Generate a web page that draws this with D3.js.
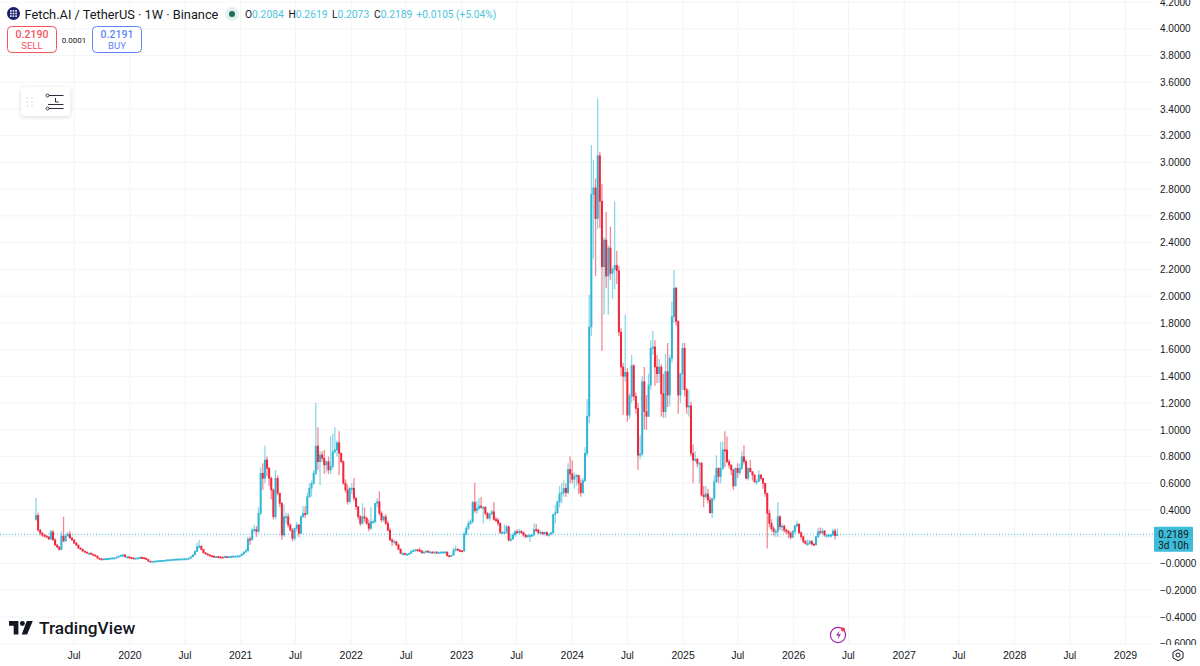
<!DOCTYPE html>
<html>
<head>
<meta charset="utf-8">
<script src="https://cdn.jsdelivr.net/npm/d3@7"></script>
<style>
  html, body { margin: 0; background: #fff; overflow: hidden; }
  svg { display: block; font-family: Roboto, sans-serif; }
  .axis text { fill: #131722; }
</style>
</head>
<body>
<svg id="chart" width="1200" height="666"></svg>
<script>
// weekly bars from the listing week, one value per week. open = previous close
const firstWeek = '2019-02-25'
const firstOpen = 0.33

const closes = [
  .36,.25,.228,.213,.206,.198,.183,.236,.176,.138,
  .123,.105,.206,.168,.206,.22,.19,.176,.153,.138,
  .116,.108,.093,.086,.078,.078,.07,.064,.056,.04,
  .035,.034,.036,.037,.038,.04,.042,.042,.048,.056,
  .062,.065,.05,.05,.045,.042,.04,.04,.042,.046,
  .044,.04,.03,.018,.017,.017,.018,.02,.022,.023,
  .024,.025,.028,.028,.03,.032,.033,.034,.034,.035,
  .036,.036,.04,.05,.065,.09,.126,.13,.105,.08,
  .072,.065,.058,.055,.052,.052,.05,.048,.044,.052,
  .05,.052,.054,.055,.056,.056,.058,.07,.085,.095,
  .183,.18,.25,.255,.24,.375,.675,.637,.775,.712,
  .637,.55,.35,.637,.525,.45,.213,.35,.35,.288,
  .25,.188,.263,.288,.226,.35,.375,.37,.5,.563,
  .6,.675,.879,.762,.812,.787,.737,.762,.7,.725,
  .837,.849,.904,.824,.762,.6,.55,.463,.563,.563,
  .488,.425,.35,.3,.35,.338,.3,.263,.313,.313,
  .45,.463,.376,.326,.35,.3,.25,.176,.164,.164,
  .139,.106,.076,.076,.07,.07,.076,.09,.098,.103,
  .1,.096,.08,.086,.093,.086,.086,.084,.086,.083,
  .083,.086,.086,.086,.058,.056,.063,.1,.108,.1,
  .096,.093,.22,.263,.3,.313,.457,.395,.412,.43,
  .42,.42,.375,.338,.37,.387,.33,.325,.3,.233,
  .233,.233,.275,.175,.183,.213,.238,.235,.24,.23,
  .213,.2,.21,.21,.213,.255,.25,.23,.233,.223,
  .233,.213,.22,.23,.368,.38,.462,.52,.53,.562,
  .53,.704,.67,.63,.65,.66,.6,.53,.62,.824,
  1.103,1.77,2.76,2.81,2.58,3.05,2.71,2.22,2.42,2.15,
  2.36,2.17,2.2,2.23,2.19,1.73,1.47,1.4,1.43,1.11,
  1.25,1.48,1.25,1.16,.81,.82,1.36,1.136,1.1,1.335,
  1.61,1.62,1.47,1.42,1.47,1.27,1.136,1.435,1.26,1.535,
  1.846,2.06,1.81,1.26,1.42,1.61,1.3,1.17,1.18,.824,
  .774,.78,.75,.75,.512,.5,.52,.475,.38,.488,
  .612,.712,.65,.712,.85,.849,.762,.737,.7,.58,
  .712,.68,.712,.799,.762,.637,.712,.687,.662,.612,
  .615,.662,.637,.6,.525,.375,.3,.26,.24,.24,
  .35,.276,.28,.25,.24,.226,.196,.24,.28,.295,
  .23,.2,.165,.15,.15,.165,.145,.14,.2,.238,
  .23,.243,.213,.213,.213,.213,.243,.2084,.2189
]

const highs = [
  .49,.38,.26,.235,.22,.212,.205,.25,.25,.19,
  .145,.13,.24,.35,.225,.235,.245,.2,.18,.16,
  .14,.12,.11,.095,.088,.082,.08,.072,.066,.058,
  .042,.038,.04,.04,.042,.044,.048,.046,.052,.06,
  .068,.072,.066,.054,.052,.048,.044,.044,.046,.052,
  .052,.046,.042,.032,.02,.02,.021,.023,.025,.026,
  .027,.028,.031,.032,.033,.035,.036,.037,.038,.038,
  .04,.04,.043,.054,.07,.1,.155,.175,.135,.108,
  .085,.076,.068,.06,.058,.056,.056,.053,.05,.06,
  .056,.056,.058,.06,.06,.06,.063,.075,.09,.115,
  .2,.2,.27,.29,.28,.42,.72,.75,.88,.8,
  .72,.65,.56,.7,.66,.53,.46,.44,.38,.375,
  .3,.265,.27,.31,.295,.36,.43,.43,.53,.6,
  .62,.7,1.2,1.02,.84,.84,.85,.77,.8,.95,
  .97,1.02,.92,.99,.83,.77,.63,.59,.57,.6,
  .64,.5,.43,.36,.45,.42,.35,.33,.42,.33,
  .455,.49,.54,.39,.36,.37,.32,.27,.19,.18,
  .17,.15,.115,.085,.08,.078,.082,.1,.105,.11,
  .11,.118,.1,.09,.098,.098,.094,.092,.09,.092,
  .09,.09,.092,.092,.09,.064,.066,.12,.135,.112,
  .108,.1,.24,.28,.32,.33,.47,.604,.47,.49,
  .5,.43,.43,.385,.38,.4,.46,.35,.34,.31,
  .245,.29,.29,.285,.22,.23,.25,.255,.26,.25,
  .24,.22,.215,.22,.22,.3,.295,.26,.25,.24,
  .24,.24,.225,.24,.37,.44,.47,.58,.6,.62,
  .6,.75,.8,.77,.68,.67,.66,.63,.64,.87,
  1.23,2.01,3.13,3.02,2.88,3.48,3.08,2.84,2.44,2.63,
  2.38,2.52,2.22,2.71,2.34,2.225,1.76,1.5,1.86,1.46,
  1.27,1.56,1.49,1.28,1.2,.96,1.4,1.47,1.26,1.42,
  1.67,1.74,1.67,1.56,1.53,1.49,1.42,1.57,1.65,1.56,
  1.96,2.195,2.07,1.82,1.42,1.65,1.65,1.31,1.3,1.21,
  .89,.84,.79,.76,.76,.58,.58,.56,.5,.49,
  .66,.81,.72,.91,.91,.99,.95,.78,.74,.71,
  .72,.75,.75,.84,.885,.78,.72,.775,.69,.67,
  .63,.7,.67,.64,.6,.53,.4,.33,.28,.26,
  .46,.36,.3,.29,.26,.25,.24,.25,.29,.32,
  .3,.24,.21,.175,.18,.175,.175,.155,.21,.265,
  .27,.265,.25,.22,.225,.22,.26,.26,.2619
]

const lows = [
  .32,.24,.21,.2,.195,.19,.175,.175,.17,.13,
  .115,.095,.1,.16,.165,.2,.185,.17,.148,.132,
  .11,.102,.088,.08,.072,.07,.064,.058,.05,.036,
  .032,.03,.032,.033,.034,.036,.038,.038,.04,.046,
  .054,.046,.046,.044,.04,.038,.036,.036,.038,.04,
  .04,.036,.026,.013,.012,.012,.014,.016,.018,.02,
  .021,.022,.024,.025,.027,.028,.03,.03,.031,.032,
  .032,.033,.035,.038,.048,.062,.088,.11,.1,.075,
  .068,.06,.054,.05,.048,.048,.046,.044,.04,.042,
  .046,.048,.05,.05,.052,.052,.052,.056,.066,.08,
  .09,.14,.17,.23,.2,.23,.36,.55,.6,.65,
  .58,.48,.33,.33,.51,.42,.175,.2,.3,.27,
  .24,.165,.17,.24,.2,.22,.34,.34,.36,.49,
  .5,.59,.66,.7,.585,.76,.67,.68,.67,.67,
  .71,.82,.8,.66,.75,.59,.53,.44,.45,.52,
  .47,.4,.33,.28,.29,.31,.29,.24,.25,.3,
  .3,.42,.36,.31,.31,.29,.24,.17,.13,.15,
  .13,.1,.07,.06,.062,.064,.066,.072,.086,.09,
  .092,.09,.072,.074,.08,.08,.078,.078,.078,.076,
  .076,.078,.08,.08,.052,.05,.05,.058,.09,.092,
  .088,.086,.09,.21,.25,.29,.3,.38,.37,.4,
  .41,.3,.36,.33,.32,.36,.32,.31,.28,.22,
  .22,.22,.225,.165,.16,.175,.2,.22,.22,.22,
  .2,.19,.19,.16,.2,.205,.235,.22,.215,.21,
  .21,.205,.2,.21,.22,.3,.37,.42,.45,.5,
  .5,.52,.6,.6,.56,.58,.52,.5,.52,.61,
  .8,1.05,1.7,2.28,2.15,2.5,2.51,1.59,1.86,2.06,
  1.86,2.12,1.98,2.05,2.09,1.7,1.4,1.11,1.36,1.06,
  1.08,1.2,1.22,1.12,.7,.78,.8,1,1,1.22,
  1.3,1.56,1.33,1.35,1.35,1.1,1.09,1.09,1.17,1.18,
  1.5,1.8,1.78,1.12,1.2,1.3,1.25,1.12,1.1,.8,
  .6,.76,.72,.6,.5,.42,.48,.45,.37,.34,
  .47,.6,.6,.6,.7,.72,.75,.71,.66,.55,
  .58,.64,.66,.7,.74,.63,.62,.68,.62,.6,
  .59,.61,.62,.56,.5,.113,.27,.24,.21,.2,
  .2,.25,.24,.23,.22,.19,.18,.19,.22,.27,
  .22,.18,.15,.14,.13,.14,.135,.13,.135,.19,
  .215,.22,.2,.19,.2,.195,.205,.18,.2073
]

const priceTicks = [4.2, 4, 3.8, 3.6, 3.4, 3.2, 3, 2.8, 2.6, 2.4, 2.2, 2, 1.8, 1.6, 1.4, 1.2, 1, 0.8, 0.6, 0.4, 0, -0.2, -0.4, -0.6]
const gridPrices = [4.2, 4, 3.8, 3.6, 3.4, 3.2, 3, 2.8, 2.6, 2.4, 2.2, 2, 1.8, 1.6, 1.4, 1.2, 1, 0.8, 0.6, 0.4, 0.2, 0, -0.2, -0.4, -0.6]
const timeTicks = ['2019-07-01', '2020-01-01', '2020-07-01', '2021-01-01', '2021-07-01', '2022-01-01', '2022-07-01', '2023-01-01', '2023-07-01', '2024-01-01', '2024-07-01', '2025-01-01', '2025-07-01', '2026-01-01', '2026-07-01', '2027-01-01', '2027-07-01', '2028-01-01', '2028-07-01', '2029-01-01']
const lastPrice = 0.2189

const upColor = '#2fb6d6'
const downColor = '#f0263c'
const gridColor = '#f3f4f6'

const parseDay = d3.utcParse('%Y-%m-%d')
const svg = d3.select('#chart')
const plotRight = 1153
const plotBottom = 645

const xScale = d3.scaleUtc()
  .domain([parseDay('2019-02-25'), parseDay('2029-01-01')])
  .range([36, 1125.5])
const yScale = d3.scaleLinear().domain([0, 4.2]).range([563.5, 2])

const bars = closes.map((c, i) => ({
  date: d3.utcDay.offset(parseDay(firstWeek), i * 7),
  open: i === 0 ? firstOpen : closes[i - 1],
  close: c,
  high: highs[i],
  low: lows[i]
}))
const barColor = d => d.close >= d.open ? upColor : downColor

svg.append('clipPath').attr('id', 'pane')
  .append('rect').attr('x', -1160).attr('width', plotRight + 48).attr('height', plotBottom)

// grid
const grid = svg.append('g')
grid.selectAll('.h')
  .data(gridPrices)
  .enter()
  .append('line')
  .attr('x1', 0).attr('x2', plotRight)
  .attr('y1', d => yScale(d)).attr('y2', d => yScale(d))
  .attr('stroke', gridColor)
grid.selectAll('.v')
  .data(timeTicks)
  .enter()
  .append('line')
  .attr('x1', d => xScale(parseDay(d))).attr('x2', d => xScale(parseDay(d)))
  .attr('y1', 0).attr('y2', plotBottom)
  .attr('stroke', gridColor)

// last price line
svg.append('line')
  .attr('x1', 0).attr('x2', plotRight)
  .attr('y1', yScale(lastPrice)).attr('y2', yScale(lastPrice))
  .attr('stroke', '#3cc3dc')
  .attr('stroke-width', 1)
  .attr('stroke-dasharray', '1 2')

// candles
const candles = svg.append('g')
candles.selectAll('.wick')
  .data(bars)
  .enter()
  .append('line')
  .attr('x1', d => xScale(d.date)).attr('x2', d => xScale(d.date))
  .attr('y1', d => yScale(d.high)).attr('y2', d => yScale(d.low))
  .attr('stroke', barColor)
  .attr('stroke-width', 1.3)
  .attr('stroke-opacity', 0.55)
candles.selectAll('.body')
  .data(bars)
  .enter()
  .append('rect')
  .attr('x', d => xScale(d.date) - 1)
  .attr('width', 2)
  .attr('y', d => yScale(Math.max(d.open, d.close)) - 0.3)
  .attr('height', d => Math.max(1.8, Math.abs(yScale(d.open) - yScale(d.close)) + 0.6))
  .attr('fill', barColor)

// price axis
const priceAxis = d3.axisRight(yScale)
  .tickValues(priceTicks)
  .tickSize(0)
  .tickPadding(0)
  .tickFormat(d => (d <= 0 ? '\u2212' : '') + Math.abs(d).toFixed(4))
svg.append('g')
  .attr('class', 'axis')
  .attr('clip-path', 'url(#pane)')
  .attr('transform', `translate(1160, 0)`)
  .attr('font-family', 'Roboto, sans-serif')
  .call(priceAxis)
  .call(g => g.select('.domain').remove())
  .call(g => g.selectAll('text').attr('font-size', 10))

// time axis
const isYear = d => d.getUTCMonth() === 0
const timeAxis = d3.axisBottom(xScale)
  .tickValues(timeTicks.map(parseDay))
  .tickSize(0)
  .tickPadding(0)
  .tickFormat(d => isYear(d) ? d3.utcFormat('%Y')(d) : 'Jul')
svg.append('g')
  .attr('class', 'axis')
  .attr('transform', `translate(-0.5, 651.5)`)
  .attr('font-family', 'Roboto, sans-serif')
  .call(timeAxis)
  .call(g => g.select('.domain').remove())
  .call(g => g.selectAll('text')
    .attr('font-size', d => isYear(d) ? 10.5 : 10)
    .attr('font-weight', d => isYear(d) ? 500 : 400))

// last price badge
const badge = svg.append('g')
badge.append('rect')
  .attr('x', 1154).attr('y', yScale(lastPrice) - 7.5)
  .attr('width', 39).attr('height', 25)
  .attr('rx', 1)
  .attr('fill', '#3cbcd8')
badge.append('text').attr('x', 1173.5).attr('y', yScale(lastPrice) + 4)
  .attr('text-anchor', 'middle').attr('font-size', 10).attr('fill', '#131722').text('0.2189')
badge.append('text').attr('x', 1173.5).attr('y', yScale(lastPrice) + 15)
  .attr('text-anchor', 'middle').attr('font-size', 10).attr('fill', '#131722').text('3d 10h')

// header
svg.append('circle').attr('cx', 13.5).attr('cy', 13.5).attr('r', 6.5).attr('fill', '#1a1f6b')
const logoDots = [-2.6, 0, 2.6]
logoDots.forEach(a => logoDots.forEach(b => {
  svg.append('rect').attr('x', 13.5 + a - 0.8).attr('y', 13.5 + b - 0.8)
    .attr('width', 1.6).attr('height', 1.6).attr('fill', '#fff')
}))
svg.append('text').attr('x', 24.5).attr('y', 18.5)
  .attr('font-size', 12.8).attr('fill', '#131722')
  .text('Fetch.AI / TetherUS \u00b7 1W \u00b7 Binance')
svg.append('circle').attr('cx', 232).attr('cy', 14).attr('r', 7).attr('fill', '#e3f1ee')
svg.append('circle').attr('cx', 232).attr('cy', 14).attr('r', 3).attr('fill', '#1a6b57')

const ohlcLabels = ['O', 'H', 'L', 'C']
const ohlcValues = ['0.2084', '0.2619', '0.2073', '0.2189']
const ohlcX = [245, 288.5, 332, 374]
ohlcLabels.forEach((l, i) => {
  const t = svg.append('text').attr('x', ohlcX[i]).attr('y', 18).attr('font-size', 10.3)
  t.append('tspan').attr('fill', '#131722').text(l)
  t.append('tspan').attr('fill', '#4cc4dc').text(ohlcValues[i])
})
svg.append('text').attr('x', 416.5).attr('y', 18).attr('font-size', 10.2).attr('fill', '#4cc4dc')
  .text('+0.0105 (+5.04%)')

// sell / buy
const tradeBoxes = [
  { x: 7.5, w: 49, color: '#f7525f', price: '0.2190', label: 'SELL' },
  { x: 92.5, w: 49, color: '#5f86f7', price: '0.2191', label: 'BUY' }
]
tradeBoxes.forEach(b => {
  svg.append('rect').attr('x', b.x).attr('y', 26.5).attr('width', b.w).attr('height', 26)
    .attr('rx', 4).attr('fill', '#fff').attr('stroke', b.color)
  svg.append('text').attr('x', b.x + b.w / 2).attr('y', 38).attr('text-anchor', 'middle')
    .attr('font-size', 10.5).attr('font-weight', 500).attr('fill', b.color).text(b.price)
  svg.append('text').attr('x', b.x + b.w / 2).attr('y', 49).attr('text-anchor', 'middle')
    .attr('font-size', 9.5).attr('fill', b.color).text(b.label)
})
svg.append('text').attr('x', 74).attr('y', 42.5).attr('text-anchor', 'middle')
  .attr('font-size', 8).attr('fill', '#131722').text('0.0001')

// floating widget
const shadow = svg.append('filter').attr('id', 'soft')
  .attr('x', '-30%').attr('y', '-30%').attr('width', '160%').attr('height', '170%')
shadow.append('feDropShadow').attr('dx', 0).attr('dy', 1).attr('stdDeviation', 2)
  .attr('flood-color', '#000').attr('flood-opacity', 0.16)
svg.append('rect').attr('x', 21).attr('y', 87).attr('width', 49).attr('height', 29)
  .attr('rx', 4).attr('fill', '#fff').attr('filter', 'url(#soft)')
;[27.5, 32].forEach(x => [98, 102, 106].forEach(y => {
  svg.append('rect').attr('x', x - 0.6).attr('y', y - 0.6).attr('width', 1.2).attr('height', 1.2).attr('fill', '#c4c7cf')
}))
const iconInk = '#131722'
svg.append('path')
  .attr('d', 'M49 95.5H63.5 M49 108.5H63.5 M48 104.5H63.5 M55.5 98v4H58.5')
  .attr('stroke', iconInk).attr('fill', 'none').attr('stroke-width', 0.9)
svg.append('circle').attr('cx', 47.5).attr('cy', 95.5).attr('r', 1.5).attr('fill', '#fff').attr('stroke', iconInk).attr('stroke-width', 0.8)
svg.append('circle').attr('cx', 47.5).attr('cy', 108.5).attr('r', 1.5).attr('fill', '#fff').attr('stroke', iconInk).attr('stroke-width', 0.8)

// TradingView mark
const mark = svg.append('g').attr('transform', 'translate(9, 621) scale(0.67)').attr('fill', '#131722')
mark.append('path').attr('d', 'M14 0H0v7h7v13h7V0Z M27 20h-8l7.5-20h9L27 20Z')
mark.append('circle').attr('cx', 20).attr('cy', 3.7).attr('r', 3.7)
svg.append('text').attr('x', 39).attr('y', 634)
  .attr('font-size', 17.3).attr('font-weight', 500).attr('fill', '#131722').text('TradingView')

// bolt icon
svg.append('circle').attr('cx', 838).attr('cy', 635).attr('r', 7.6).attr('fill', '#fff').attr('stroke', '#9c27b0').attr('stroke-width', 1.2)
svg.append('path').attr('d', 'M839.5 630.5l-3.5 5h2.6l-1.2 4 3.6-5.2h-2.6z').attr('fill', '#9c27b0')
svg.append('circle').attr('cx', 843).attr('cy', 629.5).attr('r', 2).attr('fill', '#f23645')

// settings icon
svg.append('path')
  .attr('d', 'M1178 649.5l5 2.8v5.6l-5 2.8-5-2.8v-5.6z')
  .attr('fill', 'none').attr('stroke', '#131722').attr('stroke-width', 1)
svg.append('circle').attr('cx', 1178).attr('cy', 655).attr('r', 2).attr('fill', 'none').attr('stroke', '#131722').attr('stroke-width', 1)
</script>
</body>
</html>
